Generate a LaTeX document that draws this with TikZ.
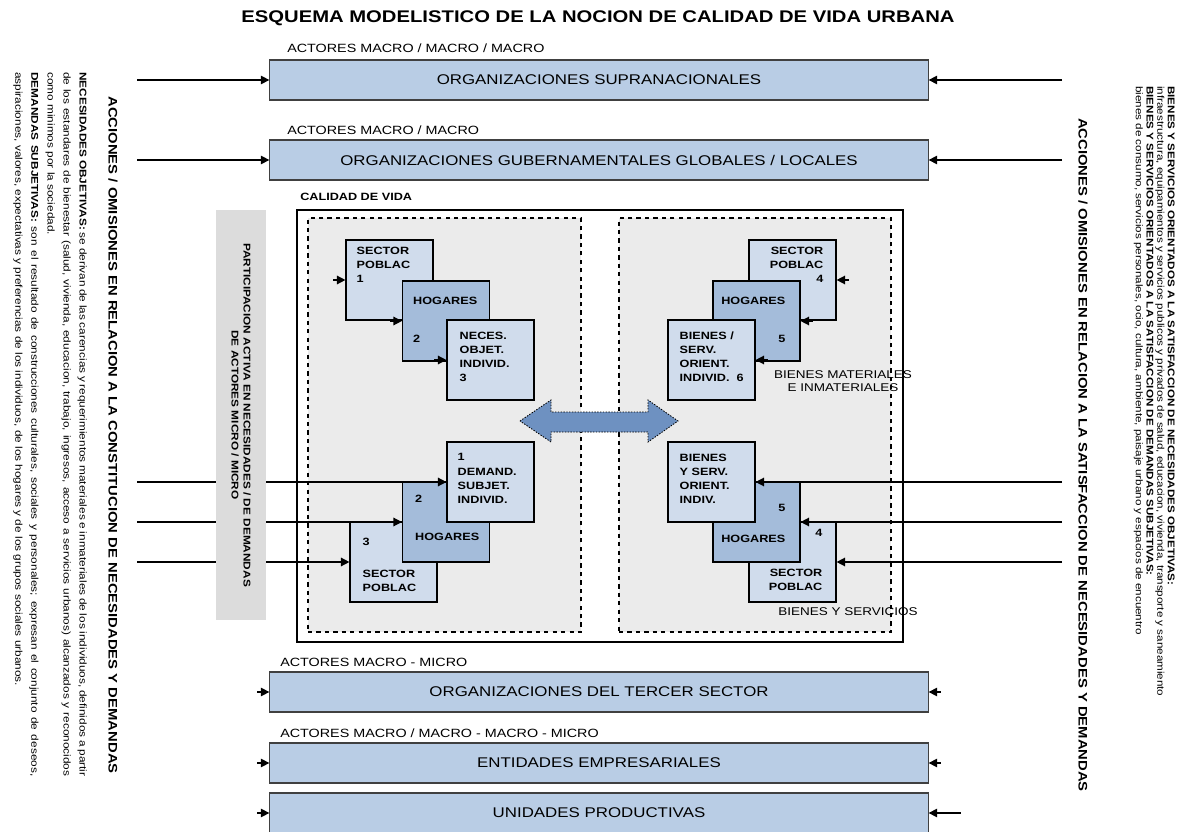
\documentclass[tikz,border=0pt]{standalone}
\usepackage{fontspec}
\setmainfont{Liberation Sans}[FakeStretch=1.2]
\usepackage{tikz}
\usetikzlibrary{arrows.meta}

\definecolor{orgblue}{HTML}{B9CDE5}
\definecolor{lightblue}{HTML}{D0DCEC}
\definecolor{midblue}{HTML}{A4BCDA}
\definecolor{panelgray}{HTML}{EBEBEB}
\definecolor{bargray}{HTML}{DCDCDC}
\definecolor{arrowblue}{HTML}{6E91C1}

\tikzset{
  orgbox/.style={draw=black!75, line width=0.8pt, fill=orgblue, minimum width=16.45cm, minimum height=1cm, font=\fontsize{10}{12}\selectfont},
  actlabel/.style={anchor=west, inner sep=0pt, font=\fontsize{8.5}{9}\selectfont},
  lbox/.style={draw=black, line width=0.8pt, fill=lightblue, minimum width=2.175cm, minimum height=2cm},
  mbox/.style={lbox, fill=midblue},
  btxt/.style={font=\fontsize{7.5}{10}\selectfont\bfseries, inner sep=0pt},
  conn/.style={line width=1pt, -{Triangle[length=6pt,width=6pt]}},
  tip/.style={line width=1pt, -{Triangle[length=6pt,width=6pt]}},
  panel/.style={draw, dashed, fill=panelgray, line width=0.8pt},
  sidettl/.style={font=\fontsize{8.8}{10}\selectfont\bfseries},
  sidetxt/.style={inner sep=0pt},
}

\begin{document}
\begin{tikzpicture}[x=0.025cm, y=-0.025cm]
\useasboundingbox (0,0) rectangle (1181,832);

\node[font=\fontsize{12}{14}\selectfont\bfseries] (title) at (598,18) {ESQUEMA MODELISTICO DE LA NOCION DE CALIDAD DE VIDA URBANA};

% actores
\node[actlabel] (act1) at (287,48) {ACTORES MACRO / MACRO / MACRO};
\node[orgbox] (org1) at (599,80) {ORGANIZACIONES SUPRANACIONALES};
\node[actlabel] (act2) at (287,130) {ACTORES MACRO / MACRO};
\node[orgbox] (org2) at (599,160) {ORGANIZACIONES GUBERNAMENTALES GLOBALES / LOCALES};
\node[actlabel] (act3) at (280,662) {ACTORES MACRO - MICRO};
\node[orgbox] (org3) at (599,692) {ORGANIZACIONES DEL TERCER SECTOR};
\node[actlabel] (act4) at (280,733) {ACTORES MACRO / MACRO - MACRO - MICRO};
\node[orgbox] (org4) at (599,763) {ENTIDADES EMPRESARIALES};
\node[orgbox] (org5) at (599,813) {UNIDADES PRODUCTIVAS};

% calidad de vida
\node[font=\fontsize{7.5}{9}\selectfont\bfseries, anchor=west, inner sep=0pt] (cvl) at (300,197) {CALIDAD DE VIDA};
\node[draw, line width=0.9pt, minimum width=15.15cm, minimum height=10.8cm] (cv) at (600,426) {};
\node[panel, minimum width=6.825cm, minimum height=10.35cm] (lp) at (444.5,425) {};
\node[panel, minimum width=6.8cm, minimum height=10.35cm] (rp) at (755,425) {};

% arriba izquierda
\node[lbox] (a1) at (389.5,280) {};
\node[btxt, anchor=north west, align=left] (a1t) at ([shift={(11,7)}]a1.north west) {SECTOR\\POBLAC\\1};
\node[mbox] (a2) at (446,321) {};
\node[btxt, anchor=north west, align=left] (a2t) at ([shift={(11,16)}]a2.north west) {HOGARES\\[17pt]2};
\node[lbox] (a3) at (490.5,360) {};
\node[btxt, anchor=north west, align=left] (a3t) at ([shift={(13,12)}]a3.north west) {NECES.\\OBJET.\\INDIVID.\\3};

% arriba derecha
\node[lbox] (b1) at (792.5,280) {};
\node[btxt, anchor=north east, align=right] (b1t) at ([shift={(-13,7)}]b1.north east) {SECTOR\\POBLAC\\4};
\node[mbox] (b2) at (756.5,321) {};
\node[btxt, anchor=north east, align=right] (b2t) at ([shift={(-15,16)}]b2.north east) {HOGARES\\[17pt]5};
\node[lbox] (b3) at (711.5,360) {};
\node[btxt, anchor=north west, align=left] (b3t) at ([shift={(12,12)}]b3.north west) {BIENES /\\SERV.\\ORIENT.\\INDIVID.~~6};
\node[font=\fontsize{8}{9.5}\selectfont, align=center] (bml) at (843,381) {BIENES MATERIALES\\E INMATERIALES};

% abajo izquierda
\node[lbox] (d3) at (393.5,562) {};
\node[btxt, anchor=north west, align=left] (d3t) at ([shift={(13,16)}]d3.north west) {3\\[13pt]SECTOR\\POBLAC};
\node[mbox] (d2) at (446,522) {};
\node[btxt, anchor=north west, align=left] (d2t) at ([shift={(13,13)}]d2.north west) {2\\[17pt]HOGARES};
\node[lbox] (d1) at (490.5,482) {};
\node[btxt, anchor=north west, align=left] (d1t) at ([shift={(11,12)}]d1.north west) {1\\DEMAND.\\SUBJET.\\INDIVID.};

% abajo derecha
\node[lbox] (e3) at (792.5,562) {};
\node[btxt, anchor=north east, align=right] (e3t) at ([shift={(-14,8)}]e3.north east) {4\\[18pt]SECTOR\\POBLAC};
\node[mbox] (e2) at (756.5,522) {};
\node[btxt, anchor=north east, align=right] (e2t) at ([shift={(-15,23)}]e2.north east) {5\\[12pt]HOGARES};
\node[lbox] (e1) at (711.5,482) {};
\node[btxt, anchor=north west, align=left] (e1t) at ([shift={(12,12)}]e1.north west) {BIENES\\Y SERV.\\ORIENT.\\INDIV.};
\node[font=\fontsize{8}{9.5}\selectfont] (bsl) at (848,612) {BIENES Y SERVICIOS};

% flecha doble
\draw[fill=arrowblue, dash pattern=on 1pt off 1pt, line width=0.6pt] (520,421) -- (551,400) -- (551,412) -- (648,412) -- (648,400) -- (678,421) -- (648,442) -- (648,432) -- (551,432) -- (551,442) -- cycle;

% conectores
\coordinate (lin) at (137,0);
\coordinate (rin) at (1062,0);
\foreach \n in {org1,org2}{
  \draw[conn] (lin |- \n.west) -- (\n.west);
  \draw[conn] (rin |- \n.east) -- (\n.east);
}
\foreach \n in {org3,org4,org5}
  \draw[tip] (\n.west) ++(-12,0) -- (\n.west);
\foreach \n in {org3,org4}
  \draw[tip] (\n.east) ++(12,0) -- (\n.east);
\draw[conn] (org5.east) ++(32,0) -- (org5.east);
\foreach \n in {a1,a2,a3}
  \draw[tip] (\n.west) ++(-12,0) -- (\n.west);
\foreach \n in {b1,b2,b3}
  \draw[tip] (\n.east) ++(12,0) -- (\n.east);
\foreach \n in {d1,d2,d3}
  \draw[conn] (lin |- \n.west) -- (\n.west);
\foreach \n in {e1,e2,e3}
  \draw[conn] (rin |- \n.east) -- (\n.east);

% barra de participacion
\node[fill=bargray, rotate=-90, minimum width=10.25cm, minimum height=1.25cm, align=center, font=\fontsize{7}{8.5}\selectfont\bfseries] (pbar) at (241,415) {PARTICIPACION ACTIVA EN NECESIDADES / DE DEMANDAS\\DE ACTORES MICRO / MICRO};

% textos laterales
\node[sidettl, rotate=-90] (ltl) at (113,435) {ACCIONES / OMISIONES EN RELACION A LA CONSTITUCION DE NECESIDADES Y DEMANDAS};
\node[sidetxt, rotate=-90, anchor=north west, text width=17.6cm, align=justify, font=\fontsize{7}{11.4}\selectfont] (ltx) at (87,72) {\textbf{NECESIDADES OBJETIVAS:} se derivan de las carencias y requerimientos materiales e inmateriales de los individuos, definidos a partir de los estandares de bienestar (salud, vivienda, educacion, trabajo, ingresos, acceso a servicios urbanos) alcanzados y reconocidos como minimos por la sociedad.\par
\textbf{DEMANDAS SUBJETIVAS:} son el resultado de construcciones culturales, sociales y personales; expresan el conjunto de deseos, aspiraciones, valores, expectativas y preferencias de los individuos, de los hogares y de los grupos sociales urbanos.};

\node[sidettl, rotate=-90] (rtl) at (1083,455) {ACCIONES / OMISIONES EN RELACION A LA SATISFACCION DE NECESIDADES Y DEMANDAS};
\node[sidetxt, rotate=-90, anchor=north west, text width=16cm, align=left, font=\fontsize{6.9}{7.6}\selectfont] (rtx) at (1175,86) {\textbf{BIENES Y SERVICIOS ORIENTADOS A LA SATISFACCION DE NECESIDADES OBJETIVAS:}\\
infraestructura, equipamientos y servicios publicos y privados de salud, educacion, vivienda, transporte y saneamiento\\
\textbf{BIENES Y SERVICIOS ORIENTADOS A LA SATISFACCION DE DEMANDAS SUBJETIVAS:}\\
bienes de consumo, servicios personales, ocio, cultura, ambiente, paisaje urbano y espacios de encuentro};

\end{tikzpicture}
\end{document}
